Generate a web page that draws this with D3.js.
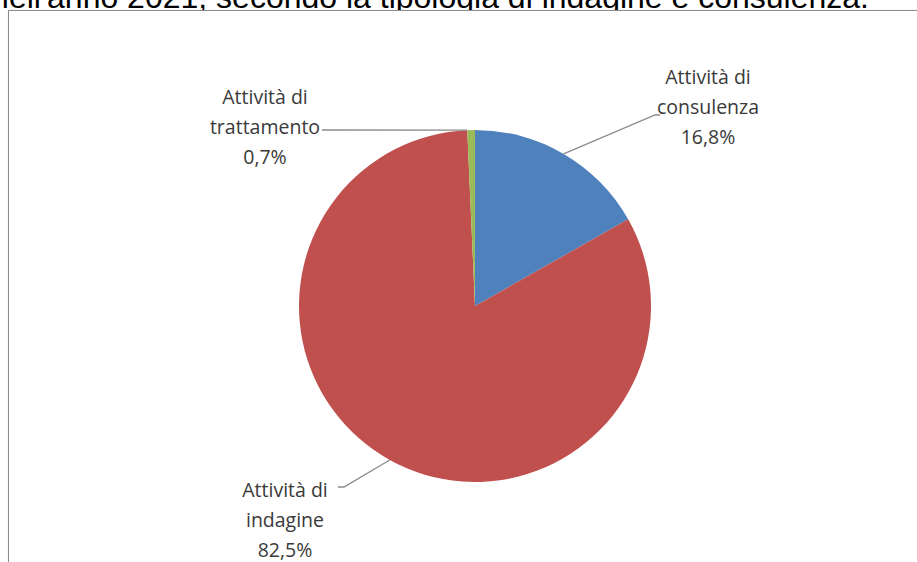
<!DOCTYPE html>
<html><head><meta charset="utf-8">
<script src="https://cdn.jsdelivr.net/npm/d3@7/dist/d3.min.js"></script>
<style>body{margin:0;background:#fff}svg{display:block}</style>
</head><body>
<script>
const categories = ["Attività di consulenza", "Attività di indagine", "Attività di trattamento"];
const labelLines = [["Attività di", "consulenza"], ["Attività di", "indagine"], ["Attività di", "trattamento"]];
const values = [16.8, 82.5, 0.7];
const valueLabels = ["16,8%", "82,5%", "0,7%"];
const colors = ["#4F81BD", "#C0504D", "#9BBB59"];
const titleText = "nell'anno 2021, secondo la tipologia di indagine e consulenza.";

const W = 917, H = 562;
const svg = d3.select("body").append("svg").attr("width", W).attr("height", H);

const defs = svg.append("defs");
const f = defs.append("filter").attr("id","sh").attr("x","-5%").attr("y","-5%").attr("width","110%").attr("height","110%");
f.append("feDropShadow").attr("dx",1).attr("dy",1).attr("stdDeviation",1.2).attr("flood-color","#000").attr("flood-opacity",0.35);

svg.append("text").attr("x", 869).attr("y", 7.5).attr("text-anchor","end")
  .attr("font-family","Liberation Sans, Arial, sans-serif").attr("font-size", 32).attr("fill","#000")
  .text(titleText);

svg.append("rect").attr("x", 8.5).attr("y", 10.5).attr("width", 940).attr("height", 600)
  .attr("fill","#fff").attr("stroke","#8c8c8c").attr("stroke-width",1).attr("filter","url(#sh)");

const cx = 475, cy = 306, r = 176;
const pie = d3.pie().sort(null).value(d => d)(values);
const arc = d3.arc().innerRadius(0).outerRadius(r);
const g = svg.append("g").attr("transform", `translate(${cx},${cy})`);
g.selectAll("path").data(pie).join("path").attr("d", arc).attr("fill", (d,i) => colors[i]);

// labels
const labelPos = [[708, 77], [285, 490], [265, 97]];
const leaders = [
  (d) => { const a=(d.startAngle+d.endAngle)/2; return [[cx+r*Math.sin(a), cy-r*Math.cos(a)],[655,115],[660,115]]; },
  (d) => { const a=(d.startAngle+d.endAngle)/2; return [[cx+r*Math.sin(a), cy-r*Math.cos(a)],[344,487],[338,487]]; },
  (d) => { return [[cx+r*Math.sin(d.startAngle), cy-r*Math.cos(d.startAngle)],[322,130]]; }
];
pie.forEach((d,i) => {
  svg.append("path").attr("d", d3.line()(leaders[i](d)))
    .attr("fill","none").attr("stroke","#8a8a8a").attr("stroke-width",1.3);
  const t = svg.append("text").attr("font-family","'Open Sans', sans-serif").attr("font-size",19.5)
    .attr("fill","#3a3a3a").attr("text-anchor","middle");
  const lines = labelLines[i].concat([valueLabels[i]]);
  lines.forEach((ln,j) => {
    t.append("tspan").attr("x", labelPos[i][0]).attr("y", labelPos[i][1] + j*30).attr("dy","0.35em").text(ln);
  });
});
</script>
</body></html>
